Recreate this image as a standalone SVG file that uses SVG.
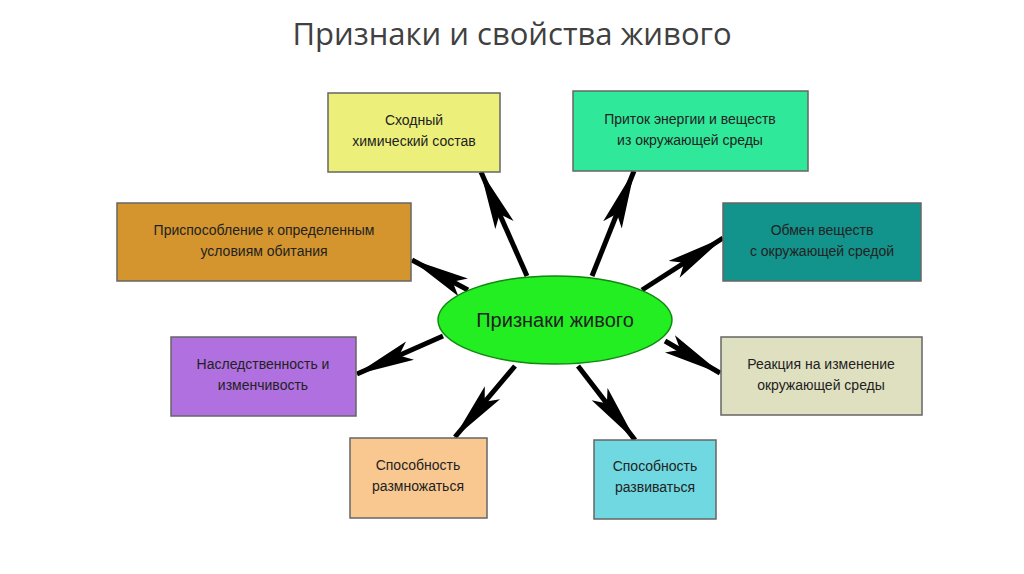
<svg xmlns="http://www.w3.org/2000/svg" width="1024" height="574" viewBox="0 0 1024 574">
<defs>
<style>
.t{font-family:"Liberation Sans",Arial,sans-serif;font-size:14px;fill:#222;text-anchor:middle}
.b{stroke:#666;stroke-width:1.5}
.c line{stroke:#000;stroke-width:5}
</style>
<marker id="ah" markerUnits="userSpaceOnUse" viewBox="0 0 60 22" refX="58" refY="11" markerWidth="60" markerHeight="22" orient="auto">
<path d="M0,1 L60,11 L0,21 L12,11 z" fill="#000"/>
</marker>
</defs>
<rect width="1024" height="574" fill="#fff"/>
<text x="512" y="45" style="font-family:'Open Sans','Liberation Sans',sans-serif;font-size:31px;fill:#404040;text-anchor:middle">Признаки и свойства живого</text>
<g class="c">
<line x1="527" y1="276" x2="481" y2="172" marker-end="url(#ah)"/>
<line x1="592" y1="276" x2="634" y2="171" marker-end="url(#ah)"/>
<line x1="468" y1="290" x2="412" y2="260" marker-end="url(#ah)"/>
<line x1="642" y1="290" x2="723" y2="238" marker-end="url(#ah)"/>
<line x1="443" y1="336" x2="357" y2="374" marker-end="url(#ah)"/>
<line x1="665" y1="341" x2="720" y2="373" marker-end="url(#ah)"/>
<line x1="515" y1="366" x2="455" y2="437" marker-end="url(#ah)"/>
<line x1="578" y1="366" x2="635" y2="440" marker-end="url(#ah)"/>
</g>
<g id="center"><ellipse cx="555" cy="320" rx="117" ry="44" fill="#22ee22" stroke="#118811" stroke-width="1.5"/><text class="t" x="555" y="327" style="font-size:20px">Признаки живого</text></g>
<g id="n1"><rect class="b" x="328" y="93" width="172" height="79" fill="#ecf07a"/><text class="t" x="414" y="125">Сходный</text><text class="t" x="414" y="146">химический состав</text></g>
<g id="n2"><rect class="b" x="573" y="91" width="235" height="80" fill="#30e89a"/><text class="t" x="690" y="124">Приток энергии и веществ</text><text class="t" x="690" y="145">из окружающей среды</text></g>
<g id="n3"><rect class="b" x="117" y="203" width="294" height="78" fill="#d4952e"/><text class="t" x="264" y="235">Приспособление к определенным</text><text class="t" x="264" y="256">условиям обитания</text></g>
<g id="n4"><rect class="b" x="723" y="203" width="198" height="78" fill="#12938c"/><text class="t" x="822" y="235">Обмен веществ</text><text class="t" x="822" y="256">с окружающей средой</text></g>
<g id="n5"><rect class="b" x="171" y="337" width="185" height="79" fill="#b070e0"/><text class="t" x="263" y="369">Наследственность и</text><text class="t" x="263" y="390">изменчивость</text></g>
<g id="n6"><rect class="b" x="721" y="337" width="201" height="78" fill="#dfe0c0"/><text class="t" x="821" y="369">Реакция на изменение</text><text class="t" x="821" y="390">окружающей среды</text></g>
<g id="n7"><rect class="b" x="350" y="438" width="137" height="80" fill="#f8c890"/><text class="t" x="418" y="470">Способность</text><text class="t" x="418" y="491">размножаться</text></g>
<g id="n8"><rect class="b" x="594" y="440" width="122" height="79" fill="#70d8e0"/><text class="t" x="655" y="471">Способность</text><text class="t" x="655" y="492">развиваться</text></g>
</svg>
